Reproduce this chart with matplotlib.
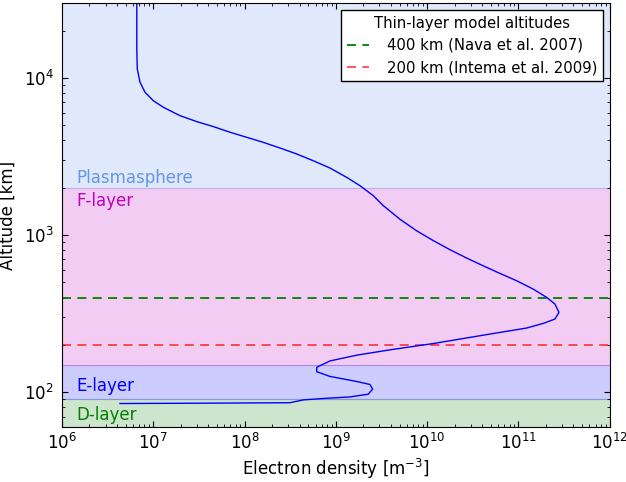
import matplotlib
matplotlib.use("Agg")
import matplotlib.pyplot as plt

# Electron density profile
altitude_km = [32000, 15300, 11400, 9400, 8110, 7160, 6500, 5750, 5270, 4900,
               4510, 4190, 3890, 3580, 3280, 2970, 2670, 2330, 2060, 1780,
               1540, 1260, 1064, 921, 806, 714, 637, 570, 512, 453,
               401, 364, 322, 292, 274, 256, 244, 225, 204, 186,
               172, 158, 144, 135, 126, 117, 112, 104.5, 97.1, 93.3,
               91.2, 89.3, 85.7, 85.1, 84.7]
density_m3 = [6.6e6, 6.6e6, 6.68e6, 7.15e6, 8.11e6, 1.00e7, 1.29e7, 1.96e7, 2.99e7, 4.54e7,
              6.92e7, 1.05e8, 1.60e8, 2.44e8, 3.72e8, 5.66e8, 8.61e8, 1.31e9, 1.84e9, 2.57e9,
              3.30e9, 5.04e9, 7.67e9, 1.17e10, 1.78e10, 2.71e10, 4.11e10, 6.27e10, 9.55e10, 1.45e11,
              2.04e11, 2.51e11, 2.78e11, 2.51e11, 1.87e11, 1.23e11, 7.43e10, 3.20e10, 1.17e10, 3.92e9,
              1.69e9, 8.61e8, 6.17e8, 6.17e8, 8.61e8, 1.69e9, 2.36e9, 2.53e9, 2.26e9, 1.43e9,
              7.28e8, 4.40e8, 3.14e8, 3.24e7, 4.32e6]

# Layers
layer_names = ["D-layer", "E-layer", "F-layer", "Plasmasphere"]
layer_bottoms = [60, 90, 150, 2000]
layer_tops = [90, 150, 2000, 30000]
layer_colors = ["green", "blue", "m", "cornflowerblue"]
label_alts = [82, 95.5, 1870, 2030]
label_va = ["top", "bottom", "top", "bottom"]

thin_alts = [400, 200]
thin_labels = ["400 km (Nava et al. 2007)", "200 km (Intema et al. 2009)"]
thin_colors = ["g", "r"]
thin_alpha = [1.0, 0.7]

fig = plt.figure(figsize=(6.26, 4.82), dpi=100)
ax = fig.add_axes([0.099, 0.114, 0.875, 0.880])
ax.set_xscale("log")
ax.set_yscale("log")

for name, lo, hi, c, la, va in zip(layer_names, layer_bottoms, layer_tops, layer_colors,
                                   label_alts, label_va):
    ax.axhspan(lo, hi, color=c, alpha=0.2, lw=0.8)
    ax.text(1.45e6, la, name, color=c, fontsize=12, va=va, ha="left")

for a, lab, c, al in zip(thin_alts, thin_labels, thin_colors, thin_alpha):
    ax.axhline(a, color=c, ls=(0, (5, 3.5)), lw=1.3, alpha=al, label=lab)

ax.plot(density_m3, altitude_km, color="blue", lw=1.0)

ax.set_xlim(1e6, 1e12)
ax.set_ylim(60, 30000)
ax.set_xlabel("Electron density [m$^{-3}$]", fontsize=12, labelpad=3)
ax.set_ylabel("Altitude [km]", fontsize=12, labelpad=5)
ax.tick_params(which="both", direction="in", top=True, right=True, labelsize=12)
ax.tick_params(which="major", length=4)
ax.tick_params(axis="y", which="major", pad=6)
ax.tick_params(axis="x", which="major", pad=4)
ax.tick_params(which="minor", length=2)

leg = ax.legend(title="Thin-layer model altitudes", loc="upper right", fontsize=10.7,
                title_fontsize=10.7, fancybox=False, edgecolor="black", framealpha=1,
                handlelength=1.5, handletextpad=1.2, borderaxespad=0.45)
leg.get_frame().set_linewidth(1.0)

fig.savefig("out.png", dpi=100)
